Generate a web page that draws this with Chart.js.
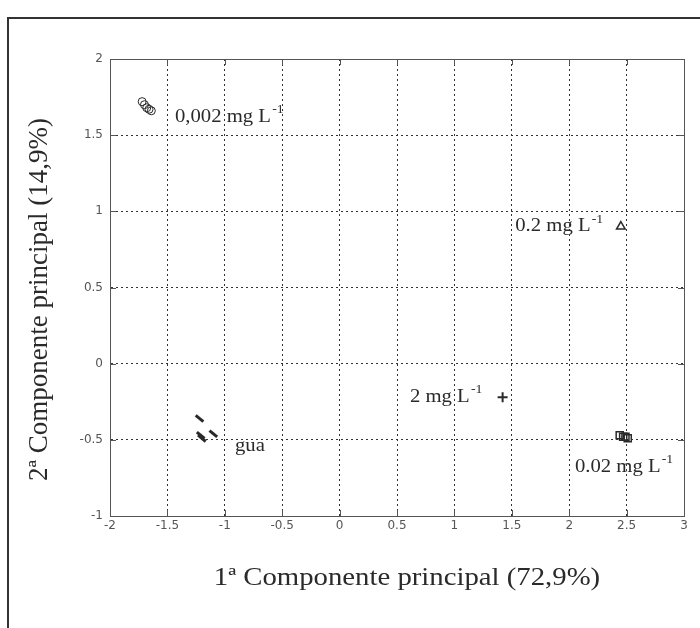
<!DOCTYPE html>
<html>
<head>
<meta charset="utf-8">
<script src="https://cdn.jsdelivr.net/npm/chart.js@4.4.1/dist/chart.umd.min.js"></script>
<style>
body { margin: 0; background: #fff; }
</style>
</head>
<body>
<canvas id="chart" width="700" height="628"></canvas>
<script>
// scores on the first two principal components
const circleX = [-1.72, -1.70, -1.68, -1.66, -1.64]
const circleY = [1.72, 1.70, 1.68, 1.67, 1.66]
const aguaX = [-1.22, -1.21, -1.20, -1.10]
const aguaY = [-0.36, -0.47, -0.49, -0.46]
const squareX = [2.44, 2.47, 2.49, 2.51]
const squareY = [-0.47, -0.48, -0.48, -0.49]
const triangleX = [2.45]
const triangleY = [0.90]
const plusX = [1.42]
const plusY = [-0.22]

// text next to each group: [text, superscript, x, y]
const groupLabels = [
    ["0,002 mg L", "-1", -1.434, 1.62],
    ["gua", "", -0.911, -0.54],
    ["0.02 mg L", "-1", 2.05, -0.68],
    ["0.2 mg L", "-1", 1.53, 0.90],
    ["2 mg L", "-1", 0.613, -0.22]
]

const xTitle = "1ª Componente principal (72,9%)"
const yTitle = "2ª Componente principal (14,9%)"

function toPoints(xs, ys){
    return xs.map((x, i) => ({x: x, y: ys[i]}))
}

const ink = "#2a2a2a"
const serif = "'Liberation Serif', 'DejaVu Serif', serif"
const stretch = 1.15 // the scanned figure is a bit wider than tall

// frame, solid plot box, matlab style inward ticks and the texts
const framePlugin = {
    id: "frame",
    beforeDraw(chart){
        const c = chart.ctx
        c.save()
        c.fillStyle = "#fff"
        c.fillRect(0, 0, chart.width, chart.height)
        c.strokeStyle = "#333"
        c.lineWidth = 2
        c.strokeRect(8, 18, 800, 800)
        c.restore()
    },
    afterDraw(chart){
        const c = chart.ctx
        const a = chart.chartArea
        const xs = chart.scales.x
        const ys = chart.scales.y
        c.save()
        c.strokeStyle = "#555"
        c.lineWidth = 1
        c.strokeRect(a.left + 0.5, a.top + 0.5, a.right - a.left, a.bottom - a.top)
        c.beginPath()
        for (let t of xs.ticks){
            const px = Math.round(xs.getPixelForValue(t.value)) + 0.5
            c.moveTo(px, a.bottom); c.lineTo(px, a.bottom - 6)
            c.moveTo(px, a.top); c.lineTo(px, a.top + 6)
        }
        for (let t of ys.ticks){
            const py = Math.round(ys.getPixelForValue(t.value)) + 0.5
            c.moveTo(a.left, py); c.lineTo(a.left + 6, py)
            c.moveTo(a.right, py); c.lineTo(a.right - 6, py)
        }
        c.stroke()

        // group labels
        c.fillStyle = ink
        c.textBaseline = "middle"
        c.textAlign = "left"
        for (let g of groupLabels){
            const px = xs.getPixelForValue(g[2])
            const py = ys.getPixelForValue(g[3])
            c.save()
            c.translate(px, py)
            c.scale(stretch, 1)
            c.font = "18px " + serif
            c.fillText(g[0], 0, 0)
            if (g[1]){
                const w = c.measureText(g[0]).width
                c.font = "12px " + serif
                c.fillText(g[1], w + 1, -7)
            }
            c.restore()
        }

        // axis titles
        c.textAlign = "center"
        c.save()
        c.translate((a.left + a.right) / 2 + 10, 578)
        c.scale(stretch, 1)
        c.font = "25px " + serif
        c.fillText(xTitle, 0, 0)
        c.restore()

        c.save()
        c.translate(40, (a.top + a.bottom) / 2 + 12)
        c.rotate(-Math.PI / 2)
        c.font = "27px " + serif
        c.fillText(yTitle, 0, 0)
        c.restore()
        c.restore()
    }
}

const chart = new Chart(document.getElementById("chart"), {
    type: "scatter",
    data: {
        datasets: [
            {
                data: toPoints(circleX, circleY),
                pointStyle: "circle",
                pointRadius: 4,
                backgroundColor: "rgba(0,0,0,0)",
                borderColor: ink,
                borderWidth: 1
            },
            {
                data: toPoints(aguaX, aguaY),
                pointStyle: "line",
                pointRadius: 5,
                rotation: 40,
                borderColor: ink,
                borderWidth: 3
            },
            {
                data: toPoints(squareX, squareY),
                pointStyle: "rect",
                pointRadius: 5,
                backgroundColor: "rgba(0,0,0,0)",
                borderColor: ink,
                borderWidth: 1.5
            },
            {
                data: toPoints(triangleX, triangleY),
                pointStyle: "triangle",
                pointRadius: 5,
                backgroundColor: "rgba(0,0,0,0)",
                borderColor: ink,
                borderWidth: 1.5
            },
            {
                data: toPoints(plusX, plusY),
                pointStyle: "cross",
                pointRadius: 5,
                borderColor: ink,
                borderWidth: 2
            }
        ]
    },
    options: {
        responsive: false,
        animation: false,
        layout: { padding: { top: 59, right: 16, left: 0, bottom: 0 } },
        plugins: {
            legend: { display: false },
            tooltip: { enabled: false }
        },
        scales: {
            x: {
                type: "linear",
                min: -2,
                max: 3,
                ticks: {
                    stepSize: 0.5,
                    color: "#555",
                    padding: 3,
                    maxRotation: 0,
                    autoSkip: false,
                    font: { family: "'DejaVu Sans', sans-serif", size: 12 },
                    callback: v => String(v)
                },
                grid: { color: "#333", lineWidth: 1, drawTicks: false },
                border: { display: true, color: "#555", dash: [2, 3] },
                afterFit(s){ s.height = 112 }
            },
            y: {
                type: "linear",
                min: -1,
                max: 2,
                ticks: {
                    stepSize: 0.5,
                    color: "#555",
                    padding: 7,
                    autoSkip: false,
                    font: { family: "'DejaVu Sans', sans-serif", size: 12 },
                    callback: v => String(v)
                },
                grid: { color: "#333", lineWidth: 1, drawTicks: false },
                border: { display: true, color: "#555", dash: [2, 3] },
                afterFit(s){ s.width = 110 }
            }
        }
    },
    plugins: [framePlugin]
});
</script>
</body>
</html>
